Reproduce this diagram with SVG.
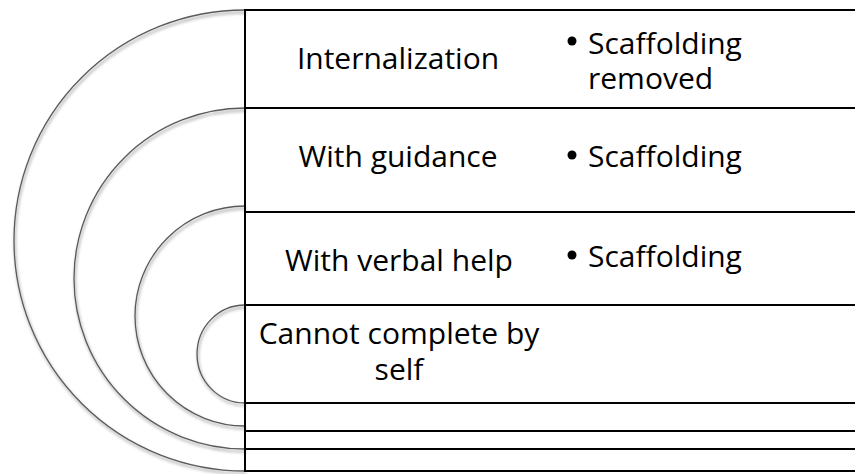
<svg xmlns="http://www.w3.org/2000/svg" width="855" height="474" viewBox="0 0 855 474">
<defs>
<filter id="sh" x="-10%" y="-10%" width="130%" height="130%">
<feDropShadow dx="1" dy="2.5" stdDeviation="1.5" flood-color="#000" flood-opacity="0.45"/>
</filter>
<style>
.ring{fill:none;stroke:#5a5a5a;stroke-width:1.3;filter:url(#sh)}
.rule{stroke:#000;stroke-width:2;fill:none}
.t{font-family:"Open Sans","Noto Sans",sans-serif;font-size:30px;fill:#000}
.c{text-anchor:middle}
.b{fill:#000}
</style>
</defs>
<rect width="855" height="474" fill="#fff"/>
<g id="rings">
<path class="ring" d="M245,10 A231,230.5 0 0 0 245,471"/>
<path class="ring" d="M245,108 A171,170.5 0 0 0 245,449"/>
<path class="ring" d="M245,206 A110,110 0 0 0 245,426"/>
<path class="ring" d="M245,305 A48,49 0 0 0 245,403"/>
</g>
<g id="connectors">
<line class="rule" x1="245" y1="9" x2="245" y2="472"/>
<line class="rule" x1="245" y1="10" x2="855" y2="10"/>
<line class="rule" x1="245" y1="108" x2="855" y2="108"/>
<line class="rule" x1="245" y1="212" x2="855" y2="212"/>
<line class="rule" x1="245" y1="305" x2="855" y2="305"/>
<line class="rule" x1="245" y1="403" x2="855" y2="403"/>
<line class="rule" x1="245" y1="431" x2="855" y2="431"/>
<line class="rule" x1="245" y1="449" x2="855" y2="449"/>
<line class="rule" x1="245" y1="471" x2="855" y2="471"/>
</g>
<g id="internalization">
<text class="t c" x="398" y="69">Internalization</text>
<circle class="b" cx="572" cy="41" r="4.5"/>
<text class="t" x="588" y="54">Scaffolding</text>
<text class="t" x="588" y="89">removed</text>
</g>
<g id="with-guidance">
<text class="t c" x="398" y="167">With guidance</text>
<circle class="b" cx="572" cy="155" r="4.5"/>
<text class="t" x="588" y="167">Scaffolding</text>
</g>
<g id="with-verbal-help">
<text class="t c" x="399" y="271">With verbal help</text>
<circle class="b" cx="572" cy="255" r="4.5"/>
<text class="t" x="588" y="267">Scaffolding</text>
</g>
<g id="cannot-complete">
<text class="t c" x="399" y="344">Cannot complete by</text>
<text class="t c" x="399" y="380">self</text>
</g>
</svg>
